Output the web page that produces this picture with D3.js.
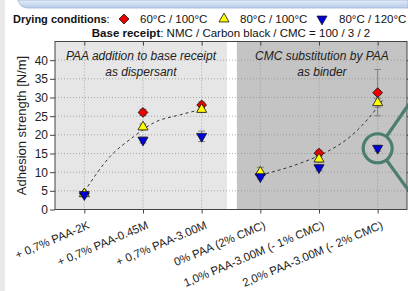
<!DOCTYPE html>
<html>
<head>
<meta charset="utf-8">
<script src="https://cdn.jsdelivr.net/npm/d3@7"></script>
<style>
  body { margin: 0; background: #fff; }
  svg { display: block; font-family: "Liberation Sans", Arial, sans-serif; }
</style>
</head>
<body>
<script>
'use strict';

// categories along the x axis
const categories = ['+ 0,7% PAA-2K', '+ 0,7% PAA-0.45M', '+ 0,7% PAA-3.00M',
  '0% PAA (2% CMC)', '1,0% PAA-3.00M (- 1% CMC)', '2,0% PAA-3.00M (- 2% CMC)'];

// adhesion strength per drying condition [N/m]
const red60_100 = [4.2, 26.0, 28.0, 9.4, 15.1, 31.3];
const yellow80_100 = [4.2, 22.1, 26.8, 10.0, 13.5, 28.6];
const blue80_120 = [4.0, 18.6, 19.6, 8.8, 11.2, 16.4];
const redErr = [0.5, 0.8, 0.8, 0.5, 0.8, 6.2];
const yellowErr = [0.5, 0.8, 0.8, 1.3, 0.8, 1.2];
const blueErr = [0.5, 0.8, 1.4, 0.6, 0.8, 0.8];

// dashed trend lines
const fitLeft = [[0, 4.8], [0.44, 14.2], [0.84, 19.5], [1.18, 23.2], [1.64, 25.4], [2, 26.8]];
const fitRight = [[3, 9.2], [3.68, 12.4], [4.14, 15.5], [4.53, 19.5], [4.82, 24.0], [5.1, 29.6]];

const yTicks = [0, 5, 10, 15, 20, 25, 30, 35, 40];

const W = 408, H = 291;
const svg = d3.select('body').append('svg')
    .attr('width', W)
    .attr('height', H);

// page decoration: light blue bar on top, grey strip on the left
const defs = svg.append('defs');
const grad = defs.append('linearGradient').attr('id', 'topbar')
    .attr('x1', 0).attr('y1', 0).attr('x2', 0).attr('y2', 1);
grad.append('stop').attr('offset', '0%').attr('stop-color', '#e4ecf8');
grad.append('stop').attr('offset', '100%').attr('stop-color', '#b8cbe8');
svg.append('rect').attr('x', 0).attr('y', 0).attr('width', 5).attr('height', H).attr('fill', '#e9e9e9');
svg.append('path')
    .attr('d', 'M18,0 H408 V8 H28 Q20,8 18,0 Z')
    .attr('fill', 'url(#topbar)')
    .attr('stroke', '#9fb4d6').attr('stroke-width', 0.8);

const x = d3.scaleLinear().domain([-0.5, 5.5]).range([55, 407]);
const y = d3.scaleLinear().domain([0, 45]).range([209.5, 41.5]);

const plot = svg.append('g');

// panel backgrounds
plot.append('rect')
    .attr('x', x(-0.5)).attr('y', y(45))
    .attr('width', x(2.43) - x(-0.5)).attr('height', y(0) - y(45))
    .attr('fill', '#e6e6e6');
plot.append('rect')
    .attr('x', x(2.6)).attr('y', y(45))
    .attr('width', x(5.5) - x(2.6)).attr('height', y(0) - y(45))
    .attr('fill', '#c4c4c4');

// grid
plot.selectAll('.hgrid').data(yTicks.slice(1)).enter().append('line')
    .attr('x1', x(-0.5)).attr('x2', x(5.5))
    .attr('y1', d => y(d)).attr('y2', d => y(d))
    .attr('stroke', '#8a8a8a').attr('stroke-width', 0.7)
    .attr('stroke-dasharray', '1,2');
plot.selectAll('.vgrid').data(categories).enter().append('line')
    .attr('x1', (d, i) => x(i)).attr('x2', (d, i) => x(i))
    .attr('y1', y(45)).attr('y2', y(0))
    .attr('stroke', '#8a8a8a').attr('stroke-width', 0.7)
    .attr('stroke-dasharray', '1,2');

// panel titles
const titles = [
  {cx: (x(-0.5) + x(2.43)) / 2, lines: ['PAA addition to base receipt', 'as dispersant']},
  {cx: (x(2.6) + x(5.5)) / 2, lines: ['CMC substitution by PAA', 'as binder']}
];
titles.forEach(t => {
  t.lines.forEach((s, k) => {
    plot.append('text')
        .attr('x', t.cx).attr('y', 60 + k * 15.5)
        .attr('text-anchor', 'middle')
        .style('font-size', '12px').style('font-style', 'italic')
        .attr('fill', '#222')
        .text(s);
  });
});

// dashed trend lines
const line = d3.line()
    .x(d => x(d[0]))
    .y(d => y(d[1]))
    .curve(d3.curveMonotoneX);
[fitLeft, fitRight].forEach(f => {
  plot.append('path')
      .attr('d', line(f))
      .attr('fill', 'none')
      .attr('stroke', '#333')
      .attr('stroke-width', 1)
      .attr('stroke-dasharray', '3,3');
});

// series
const series = [
  {vals: red60_100, err: redErr, color: '#ee0000', type: d3.symbolSquare, rot: 45, size: 48},
  {vals: yellow80_100, err: yellowErr, color: '#ffff00', type: d3.symbolTriangle, rot: 0, size: 44},
  {vals: blue80_120, err: blueErr, color: '#0000dd', type: d3.symbolTriangle, rot: 180, size: 44}
];

// error bars first
series.forEach(s => {
  const g = plot.append('g').attr('stroke', '#7a7a7a').attr('stroke-width', 0.9);
  s.vals.forEach((v, i) => {
    g.append('line')
        .attr('x1', x(i)).attr('x2', x(i))
        .attr('y1', y(v - s.err[i])).attr('y2', y(v + s.err[i]));
    [v - s.err[i], v + s.err[i]].forEach(e => {
      g.append('line')
          .attr('x1', x(i) - 3.5).attr('x2', x(i) + 3.5)
          .attr('y1', y(e)).attr('y2', y(e));
    });
  });
});

series.forEach(s => {
  plot.selectAll(null).data(s.vals).enter().append('path')
      .attr('d', d3.symbol().type(s.type).size(s.size))
      .attr('transform', (d, i) => 'translate(' + x(i) + ',' + y(d) + ') rotate(' + s.rot + ')')
      .attr('fill', s.color)
      .attr('stroke', '#111')
      .attr('stroke-width', 0.8);
});

// frame
plot.append('rect')
    .attr('x', x(-0.5)).attr('y', y(45))
    .attr('width', x(5.5) - x(-0.5)).attr('height', y(0) - y(45))
    .attr('fill', 'none').attr('stroke', '#444').attr('stroke-width', 1);

// axes
const yAxis = plot.append('g')
    .attr('transform', 'translate(' + x(-0.5) + ',0)')
    .call(d3.axisLeft(y).tickValues(yTicks).tickSize(5).tickPadding(2));
yAxis.select('.domain').remove();
yAxis.selectAll('text').style('font-size', '12px').attr('fill', '#222');
yAxis.selectAll('line').attr('stroke', '#444');

const yRight = plot.append('g')
    .attr('transform', 'translate(' + x(5.5) + ',0)')
    .call(d3.axisLeft(y).tickValues(yTicks.slice(1)).tickSize(-4).tickFormat(''));
yRight.select('.domain').remove();
yRight.selectAll('line').attr('stroke', '#444');

const xAxis = plot.append('g')
    .attr('transform', 'translate(0,' + y(0) + ')')
    .call(d3.axisBottom(x).tickValues(d3.range(categories.length)).tickSize(4).tickFormat(''));
xAxis.select('.domain').remove();
xAxis.selectAll('line').attr('stroke', '#444');

const xTop = plot.append('g')
    .attr('transform', 'translate(0,' + y(45) + ')')
    .call(d3.axisBottom(x).tickValues(d3.range(categories.length)).tickSize(4).tickFormat(''));
xTop.select('.domain').remove();
xTop.selectAll('line').attr('stroke', '#444');

// rotated category labels
plot.selectAll('.xlab').data(categories).enter().append('text')
    .attr('transform', (d, i) => 'translate(' + (x(i) + 6) + ',228) rotate(-23)')
    .attr('text-anchor', 'end')
    .style('font-size', '11.5px')
    .attr('fill', '#222')
    .text(d => d);

// y title
svg.append('text')
    .attr('transform', 'translate(26,' + (y(0) + y(45)) / 2 + ') rotate(-90)')
    .attr('text-anchor', 'middle')
    .style('font-size', '13px')
    .attr('fill', '#222')
    .text('Adhesion strength [N/m]');

// legend
const legend = svg.append('g');
const lt = legend.append('text').attr('x', 13).attr('y', 23).style('font-size', '11px').attr('fill', '#111');
lt.append('tspan').style('font-weight', 'bold').text('Drying conditions');
lt.append('tspan').text(':');
const legendItems = [
  {s: series[0], label: '60°C / 100°C', mx: 124, tx: 140},
  {s: series[1], label: '80°C / 100°C', mx: 224, tx: 240},
  {s: series[2], label: '80°C / 120°C', mx: 322, tx: 339}
];
legendItems.forEach(it => {
  legend.append('path')
      .attr('d', d3.symbol().type(it.s.type).size(it.s.size))
      .attr('transform', 'translate(' + it.mx + ',19) rotate(' + it.s.rot + ')')
      .attr('fill', it.s.color).attr('stroke', '#111').attr('stroke-width', 0.8);
  legend.append('text').attr('x', it.tx).attr('y', 23)
      .style('font-size', '11.5px').attr('fill', '#111').text(it.label);
});
const bt = legend.append('text').attr('x', 231).attr('y', 37)
    .attr('text-anchor', 'middle').style('font-size', '11.5px').attr('fill', '#111');
bt.append('tspan').style('font-weight', 'bold').text('Base receipt');
bt.append('tspan').text(': NMC / Carbon black / CMC = 100 / 3 / 2');

// green highlight on the 80°C / 120°C point of the last category
const hl = svg.append('g')
    .attr('fill', 'none').attr('stroke', '#4b7d70').attr('stroke-width', 3.2);
hl.append('circle').attr('cx', x(5)).attr('cy', y(blue80_120[5])).attr('r', 14.5);
hl.append('line').attr('x1', x(5) + 9).attr('y1', y(blue80_120[5]) - 12).attr('x2', 409).attr('y2', 104);
hl.append('line').attr('x1', x(5) + 9).attr('y1', y(blue80_120[5]) + 12).attr('x2', 409).attr('y2', 191);
</script>
</body>
</html>
